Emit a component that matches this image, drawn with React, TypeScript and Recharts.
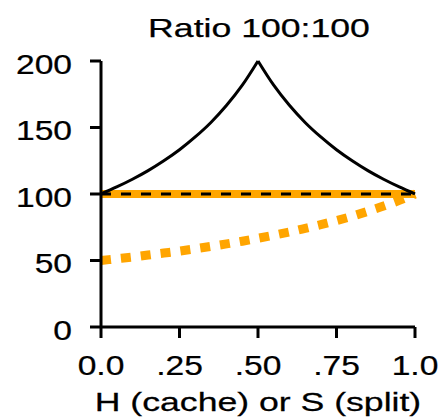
import { LineChart, Line, XAxis, YAxis, Label } from "recharts";

const FONT = '"Liberation Sans", Arial, Helvetica, sans-serif';
const ORANGE = "#ffa500";
const TICK_STRETCH = 1.2;
const TITLE_STRETCH = 1.37;

const xValues = [0, 0.05, 0.1, 0.15, 0.2, 0.25, 0.3, 0.35, 0.4, 0.45, 0.5, 0.55, 0.6, 0.65, 0.7, 0.75, 0.8, 0.85, 0.9, 0.95, 1];
const cacheRise = [100, 105.3, 111.1, 117.6, 125, 133.3, 142.9, 153.8, 166.7, 181.8, 200, null, null, null, null, null, null, null, null, null, null];
const cacheFall = [null, null, null, null, null, null, null, null, null, null, 200, 181.8, 166.7, 153.8, 142.9, 133.3, 125, 117.6, 111.1, 105.3, 100];
const splitValues = [50, 51.3, 52.6, 54.1, 55.6, 57.1, 58.8, 60.6, 62.5, 64.5, 66.7, 69, 71.4, 74.1, 76.9, 80, 83.3, 87, 90.9, 95.2, 100];
const baseline = [100, 100, 100, 100, 100, 100, 100, 100, 100, 100, 100, 100, 100, 100, 100, 100, 100, 100, 100, 100, 100];

const xTicks = [0, 0.25, 0.5, 0.75, 1];
const xTickLabels = ["0.0", ".25", ".50", ".75", "1.0"];
const yTicks = [0, 50, 100, 150, 200];

const data = xValues.map((x, i) => ({
	x,
	rise: cacheRise[i],
	fall: cacheFall[i],
	split: splitValues[i],
	base: baseline[i],
}));

const textStyle = { fontFamily: FONT, fill: "#000", stroke: "#000", strokeWidth: 0.25 };

function XTick({ x, y, payload }: any) {
	const idx = xTicks.indexOf(payload.value);
	return (
		<g transform={`translate(${x},${y + 35})`}>
			<text transform={`scale(${TICK_STRETCH},1)`} textAnchor="middle" fontSize={28} {...textStyle}>
				{idx >= 0 ? xTickLabels[idx] : payload.value}
			</text>
		</g>
	);
}

function YTick({ x, y, payload }: any) {
	return (
		<g transform={`translate(${x - 16},${y + 12.5})`}>
			<text transform={`scale(${TICK_STRETCH},1)`} textAnchor="end" fontSize={28} {...textStyle}>
				{payload.value}
			</text>
		</g>
	);
}

function AxisTitle({ viewBox }: any) {
	const cx = viewBox.x + viewBox.width / 2;
	return (
		<g transform={`translate(${cx},${viewBox.y + 84})`}>
			<text transform={`scale(${TITLE_STRETCH},1)`} textAnchor="middle" fontSize={26} {...textStyle}>
				H (cache) or S (split)
			</text>
		</g>
	);
}

export default function App() {
	return (
		<div style={{ position: "relative", width: 430, height: 411 }}>
			<div
				style={{
					position: "absolute",
					left: 101,
					top: 7,
					width: 300,
					textAlign: "center",
					fontFamily: FONT,
					fontSize: 26,
					lineHeight: "26px",
					color: "#000",
					WebkitTextStroke: "0.25px #000",
					transform: `scaleX(${TITLE_STRETCH})`,
				}}
			>
				Ratio 100:100
			</div>
			<LineChart width={430} height={411} data={data} margin={{ top: 53, right: 23, bottom: 8, left: 0 }}>
				<XAxis
					dataKey="x"
					type="number"
					domain={[0, 1]}
					ticks={xTicks}
					height={84}
					stroke="#000"
					axisLine={{ stroke: "#000", strokeWidth: 3 }}
					tickLine={{ stroke: "#000", strokeWidth: 3 }}
					tickSize={11}
					tick={<XTick />}
				>
					<Label content={<AxisTitle />} />
				</XAxis>
				<YAxis
					type="number"
					domain={[0, 200]}
					ticks={yTicks}
					width={93}
					stroke="#000"
					axisLine={{ stroke: "#000", strokeWidth: 3 }}
					tickLine={{ stroke: "#000", strokeWidth: 3 }}
					tickSize={11}
					tick={<YTick />}
				/>
				<Line dataKey="base" stroke={ORANGE} strokeWidth={8} dot={false} isAnimationActive={false} />
				<Line
					dataKey="split"
					type="monotone"
					stroke={ORANGE}
					strokeWidth={9}
					strokeDasharray="10 10"
					dot={false}
					isAnimationActive={false}
				/>
				<Line
					dataKey="base"
					stroke="#000"
					strokeWidth={3}
					strokeDasharray="10 10"
					dot={false}
					isAnimationActive={false}
				/>
				<Line dataKey="rise" type="monotone" stroke="#000" strokeWidth={3} dot={false} isAnimationActive={false} />
				<Line dataKey="fall" type="monotone" stroke="#000" strokeWidth={3} dot={false} isAnimationActive={false} />
			</LineChart>
		</div>
	);
}
